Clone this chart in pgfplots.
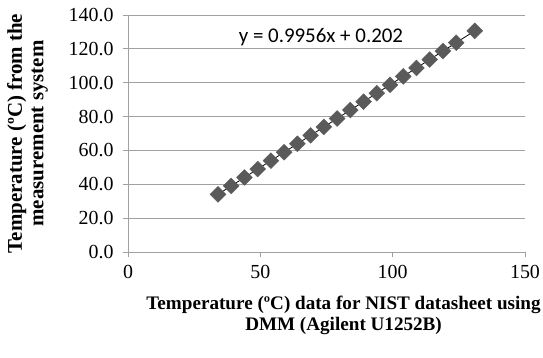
\documentclass[border=0pt]{standalone}
\usepackage{fontspec}
\setmainfont{Liberation Serif}
\newfontfamily\calibri{Carlito}
\usepackage{pgfplots}
\pgfplotsset{compat=1.18}
\definecolor{mk}{HTML}{5A5A5A}
\definecolor{gridc}{HTML}{A0A0A0}
\begin{document}
\begin{tikzpicture}
\useasboundingbox (-128bp,-106bp) rectangle (415bp,252bp);
\begin{axis}[
  at={(0,0)}, anchor=south west,
  scale only axis, width=397bp, height=237bp,
  xmin=0, xmax=150, ymin=0, ymax=140,
  xtick={0,50,100,150}, ytick={0,20,...,140},
  axis x line=bottom, axis y line=left,
  axis line style={draw=gridc, line width=0.9pt, -},
  ymajorgrids, grid style={draw=gridc, line width=0.9pt},
  tick style={draw=gridc, line width=0.9pt}, tick align=outside, major tick length=5bp,
  /pgf/number format/assume math mode=true,
  ticklabel style={font=\fontsize{20}{24}\selectfont},
  xticklabel style={yshift=-5bp},
  yticklabel style={xshift=-6bp, /pgf/number format/.cd, fixed, fixed zerofill, precision=1},
  xlabel={Temperature (ºC) data for NIST datasheet using\\DMM (Agilent U1252B)},
  ylabel={Temperature (ºC) from the\\measurement system},
  xlabel style={at={(axis description cs:0.543,-0.266)}, anchor=center, align=center, font=\bfseries\fontsize{19.2}{21}\selectfont},
  ylabel style={at={(axis description cs:-0.253,0.5)}, anchor=center, align=center, font=\bfseries\fontsize{21}{21.5}\selectfont},
  clip=false,
]
\addplot[only marks, mark=square*, mark size=5.6bp, mark options={rotate=45, fill=mk, draw=mk}] coordinates {
(34,34.05) (39,39.03) (44,44.01) (49,48.99) (54,53.96) (59,58.94) (64,63.92) (69,68.90) (74,73.88) (79,78.86)
(84,83.83) (89,88.81) (94,93.79) (99,98.77) (104,103.74) (109,108.72) (114,113.70) (119,118.68) (124,123.66) (131,130.63)
};
\addplot[black, line width=0.8pt] coordinates {(34,34.05) (131,130.63)};
\node[font=\calibri\fontsize{21}{24}\selectfont] at (axis cs:72.9,127) {y = 0.9956x + 0.202};
\end{axis}
\end{tikzpicture}
\end{document}
